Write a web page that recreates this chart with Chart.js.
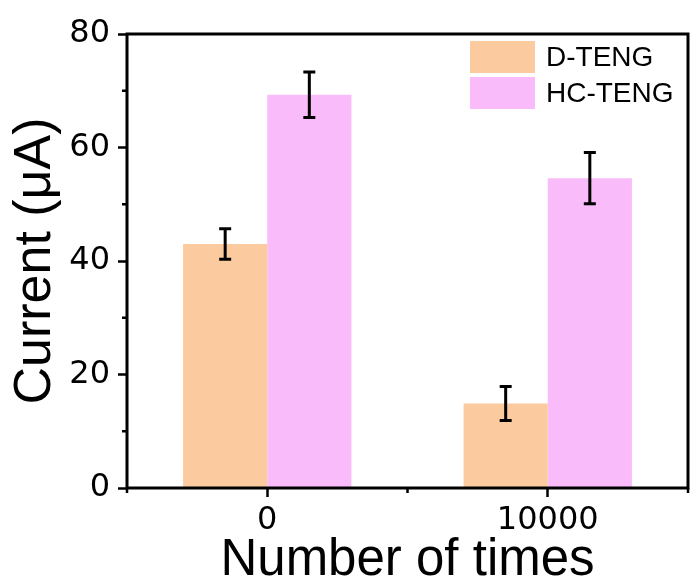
<!DOCTYPE html>
<html>
<head>
<meta charset="utf-8">
<script src="https://cdn.jsdelivr.net/npm/chart.js@4"></script>
<style>
  html, body { margin: 0; padding: 0; background: #fff; }
  #chart { display: block; }
</style>
</head>
<body>
<canvas id="chart" width="691" height="588"></canvas>
<script>
// Current before / after 10000 cycles

const categories = ['0', '10000'];
const seriesNames = ['D-TENG', 'HC-TENG'];
const dTeng = [43.0, 14.9];
const dTengErr = [2.7, 3.0];
const hcTeng = [69.3, 54.6];
const hcTengErr = [4.0, 4.5];
const yTicks = [0, 20, 40, 60, 80];
const yMinorTicks = [10, 30, 50, 70];

const FONT = "'Liberation Sans', Arial, sans-serif";
const TICK_FONT = "'DejaVu Sans', sans-serif";
const errors = [dTengErr, hcTengErr];

// error bars, frame, minor ticks and the legend box
const extras = {
  id: 'extras',
  afterDatasetsDraw(chart) {
    const ctx = chart.ctx;
    const area = chart.chartArea;
    const xs = chart.scales.x;
    const ys = chart.scales.y;

    ctx.save();
    ctx.strokeStyle = '#000';
    ctx.lineCap = 'butt';

    // error bars
    ctx.lineWidth = 3;
    chart.data.datasets.forEach((ds, di) => {
      const meta = chart.getDatasetMeta(di);
      meta.data.forEach((bar, i) => {
        const v = ds.data[i];
        const e = errors[di][i];
        const yTop = ys.getPixelForValue(v + e);
        const yBot = ys.getPixelForValue(v - e);
        ctx.beginPath();
        ctx.moveTo(bar.x, yTop);
        ctx.lineTo(bar.x, yBot);
        ctx.moveTo(bar.x - 6, yTop);
        ctx.lineTo(bar.x + 6, yTop);
        ctx.moveTo(bar.x - 6, yBot);
        ctx.lineTo(bar.x + 6, yBot);
        ctx.stroke();
      });
    });

    // minor ticks
    ctx.lineWidth = 2.5;
    ctx.beginPath();
    yMinorTicks.forEach(v => {
      const y = ys.getPixelForValue(v);
      ctx.moveTo(area.left - 5, y);
      ctx.lineTo(area.left, y);
    });
    const p0 = xs.getPixelForValue(0);
    const p1 = xs.getPixelForValue(1);
    [area.left, (p0 + p1) / 2, area.right].forEach(x => {
      ctx.moveTo(x, area.bottom);
      ctx.lineTo(x, area.bottom + 5);
    });
    ctx.stroke();

    // frame
    ctx.lineWidth = 3;
    ctx.strokeRect(area.left, area.top, area.right - area.left, area.bottom - area.top);

    // legend
    ctx.font = '28px ' + FONT;
    ctx.textAlign = 'left';
    ctx.textBaseline = 'middle';
    chart.data.datasets.forEach((ds, di) => {
      const y = area.top + 7 + di * 36;
      ctx.fillStyle = ds.backgroundColor;
      ctx.fillRect(470, y, 65, 32);
      ctx.fillStyle = '#000';
      ctx.fillText(ds.label, 546, y + 17);
    });
    ctx.restore();
  }
};

const ctx = document.getElementById('chart').getContext('2d');
new Chart(ctx, {
  type: 'bar',
  data: {
    labels: categories,
    datasets: [
      {
        label: seriesNames[0],
        data: dTeng,
        backgroundColor: '#FBCB9F',
        borderWidth: 0,
        categoryPercentage: 0.6,
        barPercentage: 1.0
      },
      {
        label: seriesNames[1],
        data: hcTeng,
        backgroundColor: '#F9BBF9',
        borderWidth: 0,
        categoryPercentage: 0.6,
        barPercentage: 1.0
      }
    ]
  },
  options: {
    responsive: false,
    animation: false,
    devicePixelRatio: 1,
    layout: { padding: { left: 0, right: 3, top: 34, bottom: 0 } },
    plugins: {
      legend: { display: false },
      tooltip: { enabled: false }
    },
    scales: {
      x: {
        grid: {
          offset: false,
          drawOnChartArea: false,
          drawTicks: true,
          tickLength: 9,
          tickWidth: 2.5,
          tickColor: '#000'
        },
        border: { display: false },
        ticks: {
          color: '#000',
          font: { family: TICK_FONT, size: 32 },
          padding: 4,
          maxRotation: 0
        },
        title: {
          display: true,
          text: 'Number of times',
          color: '#000',
          font: { family: FONT, size: 51, lineHeight: 1.0 },
          padding: { top: 0, bottom: 2 }
        },
        afterFit(scale) { scale.height = 100; }
      },
      y: {
        min: 0,
        max: 80,
        afterBuildTicks(scale) {
          scale.ticks = yTicks.map(v => ({ value: v }));
        },
        grid: {
          drawOnChartArea: false,
          drawTicks: true,
          tickLength: 9,
          tickWidth: 2.5,
          tickColor: '#000'
        },
        border: { display: false },
        ticks: {
          color: '#000',
          font: { family: TICK_FONT, size: 32 },
          padding: 8
        },
        title: {
          display: true,
          text: 'Current (μA)',
          color: '#000',
          font: { family: FONT, size: 52, lineHeight: 1.2 },
          padding: { top: 4, bottom: 0 }
        },
        afterFit(scale) { scale.width = 127; }
      }
    }
  },
  plugins: [extras]
});
</script>
</body>
</html>
